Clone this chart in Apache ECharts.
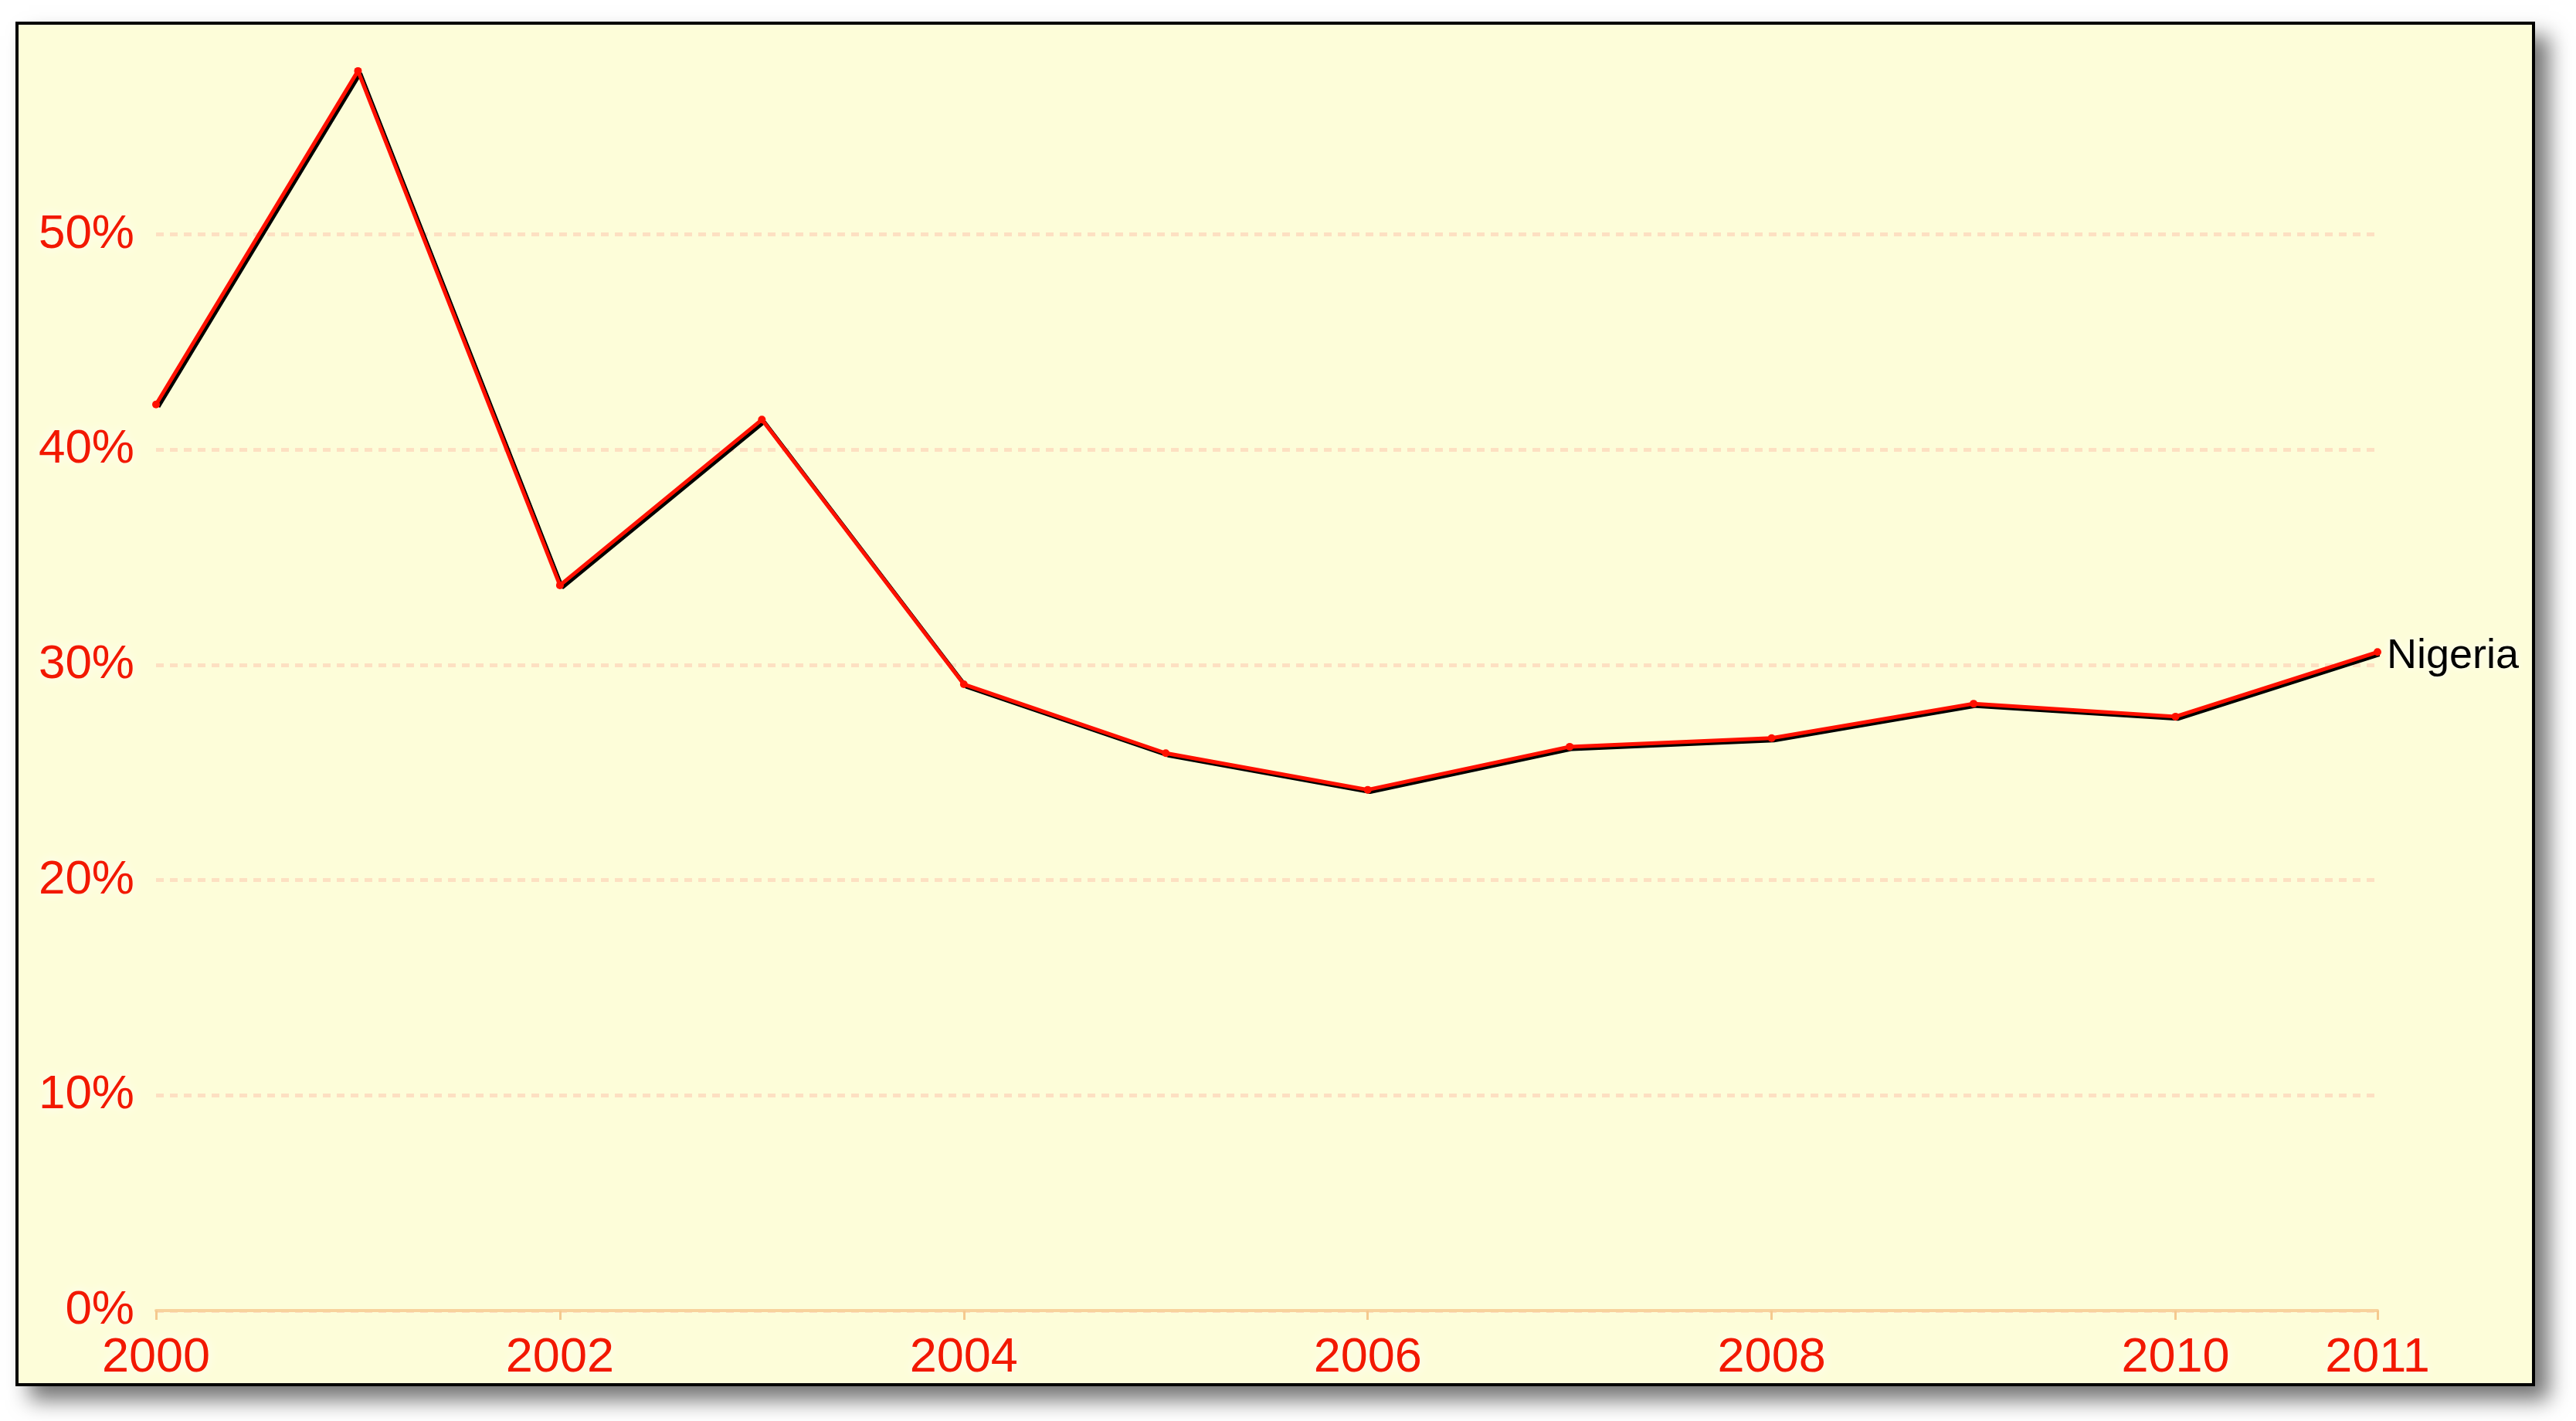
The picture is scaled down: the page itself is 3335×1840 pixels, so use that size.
<!DOCTYPE html>
<html>
<head>
<meta charset="utf-8">
<script src="https://cdn.jsdelivr.net/npm/echarts@6/dist/echarts.min.js"></script>
<style>
  html, body { margin: 0; padding: 0; background: #fff; }
  body { width: 3335px; height: 1840px; position: relative; overflow: hidden; }
  .frame {
    position: absolute;
    left: 20px;
    top: 28px;
    width: 3262px;
    height: 1767px;
    box-sizing: border-box;
    border: 4px solid #000;
    background: #fdfdd9;
    box-shadow: 18px 18px 26px rgba(0, 0, 0, 0.55);
    overflow: hidden;
  }
  #chart {
    position: absolute;
    left: 0;
    top: -100px;
    width: 3254px;
    height: 1859px;
  }
</style>
</head>
<body>
<div class="frame"><div id="chart"></div></div>
<script>
const years = ["2000", "2001", "2002", "2003", "2004", "2005", "2006", "2007", "2008", "2009", "2010", "2011"];
const nigeria = [42.1, 57.6, 33.7, 41.4, 29.1, 25.9, 24.2, 26.2, 26.6, 28.2, 27.6, 30.6];
const yearLabels = ["2000", "2002", "2004", "2006", "2008", "2010", "2011"];
const seriesName = "Nigeria";

const labelFont = "'Liberation Sans', Arial, sans-serif";
const red = "#f21800";

const chart = echarts.init(document.getElementById("chart"));

chart.setOption({
  animation: false,
  grid: { left: 178, right: 200, top: 93, bottom: 94 },
  xAxis: {
    type: "category",
    data: years,
    boundaryGap: false,
    axisLine: { lineStyle: { color: "#f8d29c", width: 4 } },
    axisTick: {
      length: 12,
      lineStyle: { color: "#f5c98e", width: 3 },
      interval: (i, v) => yearLabels.includes(v),
    },
    axisLabel: {
      interval: (i, v) => yearLabels.includes(v),
      color: red,
      fontFamily: labelFont,
      fontSize: 63,
      margin: 30,
      textShadowColor: "#ffffff",
      textShadowBlur: 14,
    },
    splitLine: { show: false },
  },
  yAxis: {
    type: "value",
    min: 0,
    max: 60,
    interval: 10,
    axisLine: { show: false },
    axisTick: { show: false },
    axisLabel: {
      showMaxLabel: false,
      formatter: "{value}%",
      color: red,
      fontFamily: labelFont,
      fontSize: 62,
      margin: 28,
      textShadowColor: "#ffffff",
      textShadowBlur: 14,
    },
    splitLine: {
      lineStyle: { color: "#fde0c2", width: 5, type: [10, 8] },
    },
  },
  series: [
    {
      name: seriesName,
      type: "line",
      data: nigeria,
      symbol: "circle",
      symbolSize: 10,
      itemStyle: { color: "#ff1000" },
      lineStyle: {
        color: "#ff1000",
        width: 5,
        shadowColor: "#000000",
        shadowOffsetX: 3,
        shadowOffsetY: 3,
        shadowBlur: 0,
      },
      endLabel: {
        show: true,
        formatter: seriesName,
        color: "#000",
        fontFamily: labelFont,
        fontSize: 54,
        distance: 12,
        offset: [0, 6],
        textShadowColor: "#ffffff",
        textShadowBlur: 10,
      },
    },
  ],
});
</script>
</body>
</html>
